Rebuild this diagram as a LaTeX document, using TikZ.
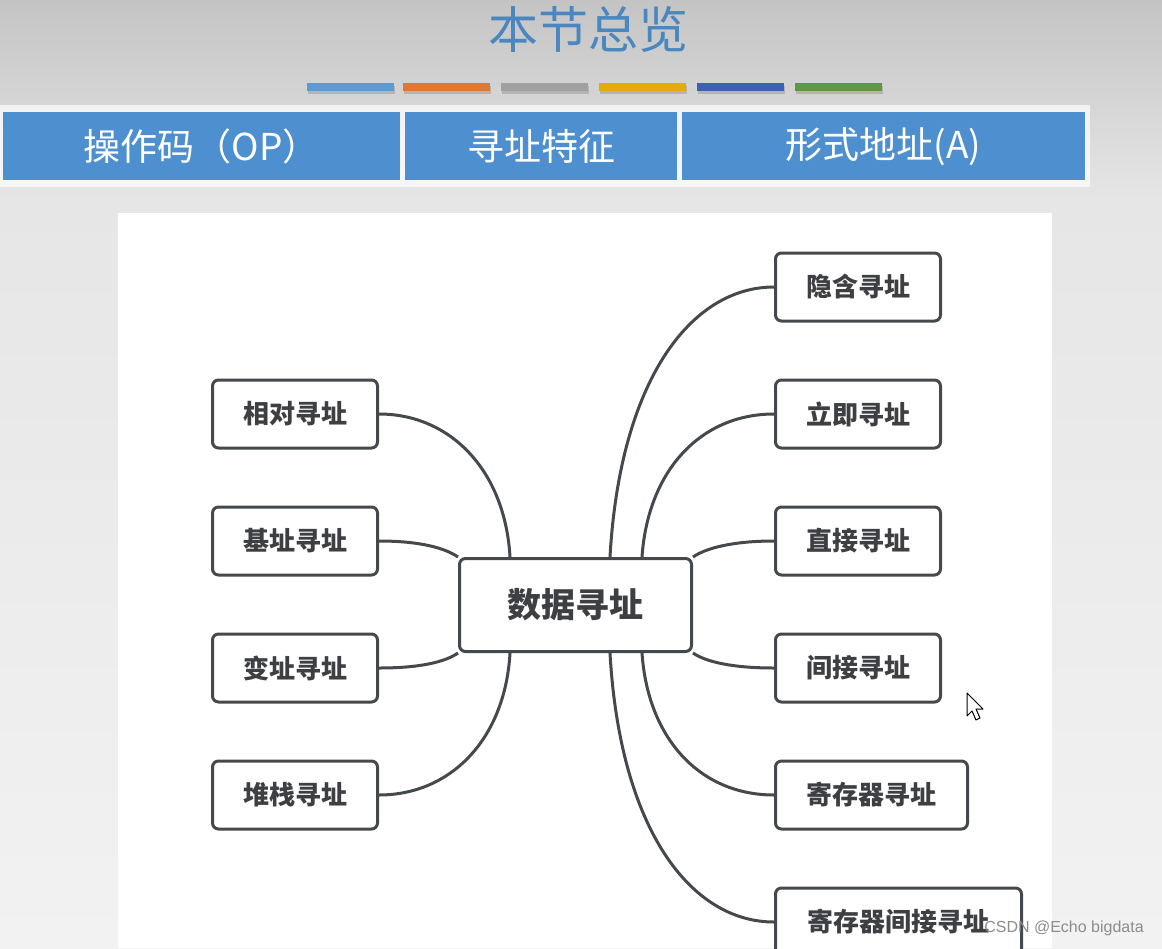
\documentclass[tikz,border=0pt]{standalone}
\usepackage{fontspec}
\setmainfont{Noto Sans CJK SC}
\newfontfamily\latinfont{Liberation Sans}
\usetikzlibrary{positioning,calc}

\definecolor{bgtop}{HTML}{C4C4C4}
\definecolor{bgmid}{HTML}{E6E6E6}
\definecolor{bgbot}{HTML}{F2F2F2}
\definecolor{titleblue}{HTML}{4A86C0}
\definecolor{hdrblue}{HTML}{4E8FD0}
\definecolor{boxline}{HTML}{45494D}
\definecolor{boxtext}{HTML}{3D3F42}
\definecolor{barA}{HTML}{5B9BD5}
\definecolor{barB}{HTML}{E07830}
\definecolor{barC}{HTML}{A0A0A0}
\definecolor{barD}{HTML}{E8A90A}
\definecolor{barE}{HTML}{3A62AE}
\definecolor{barF}{HTML}{5E9840}

\begin{document}
\begin{tikzpicture}[x=1pt, y=1pt, node distance=56pt,
    leaf/.style={draw=boxline, line width=3pt, rounded corners=6pt, fill=white,
        minimum width=165pt, minimum height=68pt, text=boxtext,
        font=\bfseries\fontsize{26}{28}\selectfont},
    hub/.style={leaf, minimum width=232pt, minimum height=93pt,
        font=\bfseries\fontsize{34}{36}\selectfont},
    hdr/.style={fill=hdrblue, minimum height=68pt, inner sep=0pt, text=white,
        font=\fontsize{37}{40}\selectfont},
    link/.style={draw=boxline, line width=3pt}]

    \clip (0,0) rectangle (1162,-948);
    % background
    \shade[top color=bgtop, bottom color=bgmid] (0,0) rectangle (1162,-200);
    \shade[top color=bgmid, bottom color=bgbot] (0,-200) rectangle (1162,-948);

    % title and colour bars
    \node[text=titleblue, font=\fontsize{50}{54}\selectfont] (title) at (588,-30) {本节总览};
    \foreach \x/\c in {307/barA, 403/barB, 501/barC, 599/barD, 697/barE, 795/barF} {
        \fill[black, opacity=0.15] (\x+1,-86) rectangle ++(87,-8);
        \fill[\c] (\x,-83) rectangle ++(87,-8);
    }

    % instruction format header
    \fill[white, opacity=0.7] (0,-105) rectangle (1090,-187);
    \node[hdr, minimum width=397pt, anchor=north west] (op) at (3,-112) {操作码（OP）};
    \node[hdr, minimum width=272pt, anchor=north west] (feat) at (405,-112) {寻址特征};
    \node[hdr, minimum width=403pt, anchor=north west] (addr) at (682,-112) {形式地址(A)};

    % diagram panel
    \fill[white] (118,-213) rectangle (1052,-948);

    \node[hub] (data) at (575.5,-605) {数据寻址};

    \node[leaf] (rel) at (295,-414) {相对寻址};
    \node[leaf, below=of rel] (base) {基址寻址};
    \node[leaf, below=of base] (idx) {变址寻址};
    \node[leaf, below=of idx] (stack) {堆栈寻址};

    \node[leaf, anchor=west] (impl) at (774,-287) {隐含寻址};
    \node[leaf, below=of impl.south west, anchor=north west] (imm) {立即寻址};
    \node[leaf, below=of imm.south west, anchor=north west] (dir) {直接寻址};
    \node[leaf, below=of dir.south west, anchor=north west] (ind) {间接寻址};
    \node[leaf, below=of ind.south west, anchor=north west, minimum width=192pt] (reg) {寄存器寻址};
    \node[leaf, below=of reg.south west, anchor=north west, minimum width=246pt] (regind) {寄存器间接寻址};

    % left branches
    \draw[link] (rel.east) .. controls +(71,0) and +(-5,87) .. ([xshift=52pt]data.north west);
    \draw[link] (base.east) .. controls +(41,0) and +(-13,9) .. (data.north west);
    \draw[link] (idx.east) .. controls +(41,0) and +(-13,-9) .. (data.south west);
    \draw[link] (stack.east) .. controls +(71,0) and +(-5,-87) .. ([xshift=52pt]data.south west);

    % right branches
    \draw[link] (impl.west) .. controls +(-83,0) and +(10,177) .. ([xshift=-83pt]data.north east);
    \draw[link] (imm.west) .. controls +(-73,0) and +(6,87) .. ([xshift=-51pt]data.north east);
    \draw[link] (dir.west) .. controls +(-41,0) and +(13,9) .. (data.north east);
    \draw[link] (ind.west) .. controls +(-41,0) and +(13,-9) .. (data.south east);
    \draw[link] (reg.west) .. controls +(-73,0) and +(6,-87) .. ([xshift=-51pt]data.south east);
    \draw[link] (regind.west) .. controls +(-83,0) and +(10,-177) .. ([xshift=-83pt]data.south east);

    % pointer and watermark
    \draw[fill=white, line width=1pt, line join=round] (967,-693) -- (967,-716) -- (972,-711)
        -- (976,-720) -- (980,-718) -- (976,-709) -- (983,-709) -- cycle;
    \node[text=black!45, font=\latinfont\fontsize{16}{18}\selectfont] (mark) at (1064,-928) {CSDN @Echo bigdata};
\end{tikzpicture}
\end{document}
